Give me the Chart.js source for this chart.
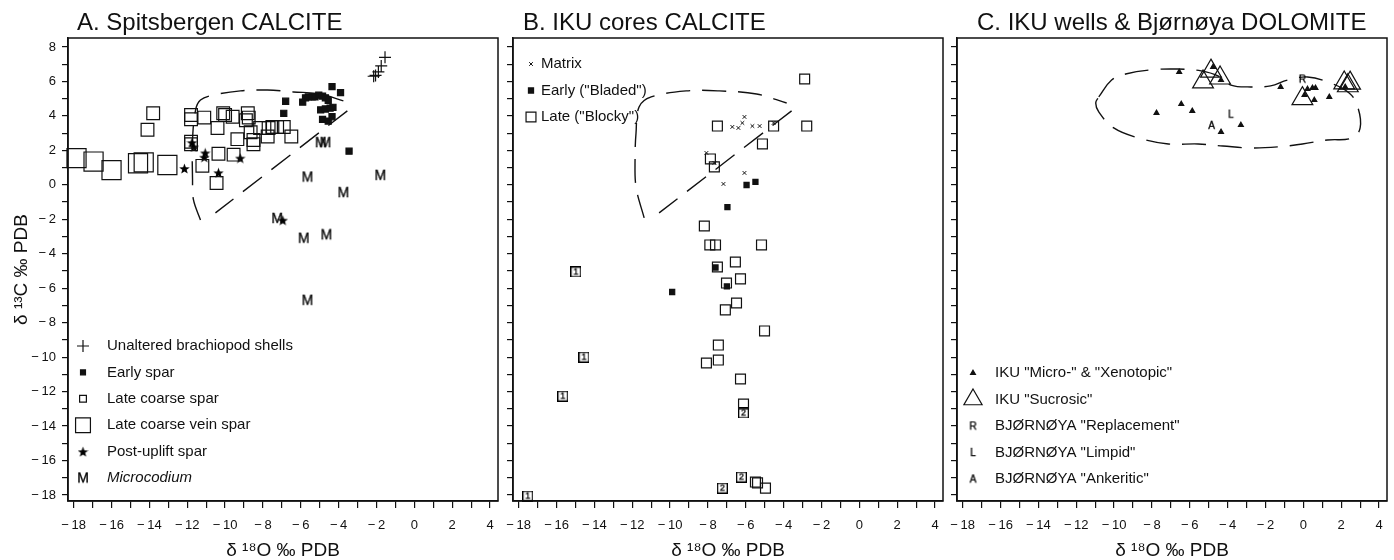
<!DOCTYPE html>
<html>
<head>
<meta charset="utf-8">
<title>Carbon and oxygen isotopes – calcite and dolomite</title>
<script src="https://cdn.jsdelivr.net/npm/chart.js@4.4.1/dist/chart.umd.min.js"></script>
<style>
  html, body { margin: 0; padding: 0; background: #fff; }
  #wrap { position: relative; width: 1394px; height: 560px; overflow: hidden; }
  canvas { position: absolute; top: 0; }
</style>
</head>
<body>
<div id="wrap">
  <canvas id="panelA" width="505" height="560" style="left:0px"></canvas>
  <canvas id="panelB" width="445" height="560" style="left:500px"></canvas>
  <canvas id="panelC" width="449" height="560" style="left:945px"></canvas>
</div>
<script>
// --- tick labels shared by the three panels ---
const xTickValues = [-18, -16, -14, -12, -10, -8, -6, -4, -2, 0, 2, 4];
const yTickValues = [8, 6, 4, 2, 0, -2, -4, -6, -8, -10, -12, -14, -16, -18];

// --- A. Spitsbergen calcite  [d18O, d13C] ---
const brachiopodShells = [[-1.55, 7.4], [-1.75, 6.9], [-1.9, 6.55], [-2.05, 6.35], [-2.15, 6.3]];
const earlySparA = [
  [-6.8, 4.85], [-6.9, 4.15], [-5.9, 4.8], [-5.75, 5.05], [-5.6, 5.1], [-5.4, 5.1], [-5.25, 5.1],
  [-5.05, 5.2], [-4.85, 5.15], [-4.7, 5.05], [-4.55, 4.9], [-4.35, 5.7], [-3.9, 5.35], [-4.95, 4.35],
  [-4.7, 4.4], [-4.45, 4.45], [-4.85, 3.8], [-4.55, 3.7], [-4.35, 3.95], [-4.3, 4.5], [-3.45, 1.95]
];
const lateCoarseSpar = [
  [-13.8, 4.15], [-14.1, 3.2], [-11.8, 4.05], [-11.8, 3.8], [-11.8, 2.5], [-11.8, 2.35], [-11.1, 3.9],
  [-10.4, 3.3], [-10.35, 1.8], [-11.2, 1.1], [-10.45, 0.1], [-10.1, 4.15], [-10.0, 4.05], [-9.6, 3.95],
  [-9.35, 2.65], [-9.55, 1.75], [-8.8, 4.15], [-8.75, 3.9], [-8.9, 3.75], [-8.65, 3.05], [-8.5, 2.35],
  [-8.5, 2.6], [-8.15, 3.3], [-7.75, 2.8], [-7.7, 3.3], [-7.5, 3.35], [-7.25, 3.35], [-6.9, 3.35], [-6.5, 2.8]
];
const lateVeinSpar = [[-17.85, 1.55], [-16.95, 1.35], [-16.0, 0.85], [-14.6, 1.25], [-14.3, 1.3], [-13.05, 1.15]];
const postUpliftSpar = [[-12.15, 0.95], [-11.75, 2.45], [-11.65, 2.2], [-11.05, 1.85], [-11.1, 1.6], [-10.35, 0.7], [-9.2, 1.55], [-6.95, -2.05]];
const microcodium = [[-4.95, 2.45], [-4.7, 2.45], [-5.65, 0.45], [-1.8, 0.55], [-3.75, -0.45], [-7.25, -1.95], [-5.85, -3.1], [-4.65, -2.9], [-5.65, -6.7]];
const envelopeA = [[-11.3, -2.04], [-11.67, -0.88], [-11.72, 0.28], [-11.72, 2.6], [-11.56, 4.34], [-11.3, 4.92], [-10.61, 5.21], [-9.19, 5.45], [-7.76, 5.5], [-6.39, 5.39], [-4.97, 5.27], [-3.75, 4.87]];
const trendA = [[-3.54, 4.29], [-10.51, -1.63]];

// --- B. IKU cores calcite ---
const matrixB = [[-6.07, 3.94], [-6.71, 3.36], [-6.39, 3.3], [-6.18, 3.59], [-5.65, 3.41], [-5.27, 3.41], [-4.53, 3.59], [-8.08, 1.85], [-7.66, 1.27], [-6.07, 0.69], [-7.18, 0.05]];
const earlyBladed = [[-5.96, -0.01], [-5.49, 0.17], [-6.97, -1.29], [-9.89, -6.22], [-7.6, -4.8], [-7.0, -5.9]];
const lateBlocky = [
  [-2.89, 6.14], [-7.5, 3.41], [-4.53, 3.41], [-2.78, 3.41], [-5.12, 2.37], [-7.87, 1.5], [-7.66, 1.04],
  [-8.19, -2.39], [-7.9, -3.49], [-7.6, -3.49], [-5.17, -3.49], [-6.55, -4.48], [-7.5, -4.77], [-6.28, -5.46],
  [-7.02, -5.7], [-6.49, -6.86], [-7.08, -7.26], [-5.01, -8.48], [-7.45, -9.3], [-7.45, -10.17], [-8.08, -10.34],
  [-6.28, -11.27], [-6.12, -12.72], [-5.49, -17.25], [-5.38, -17.3], [-4.96, -17.6]
];
const blockyGroup1 = [[-14.98, -5.06], [-14.55, -10.0], [-15.67, -12.26], [-17.52, -18.06]];
const blockyGroup2 = [[-6.12, -13.24], [-6.23, -16.96], [-7.24, -17.6]];
const envelopeB = [[-11.37, -1.92], [-11.8, -0.13], [-11.85, 1.62], [-11.8, 3.01], [-11.64, 4.52], [-11.0, 5.1], [-9.15, 5.45], [-7.4, 5.45], [-5.43, 5.27], [-3.84, 4.75]];
const trendB = [[-3.58, 4.29], [-10.58, -1.63]];

// --- C. IKU wells & Bjørnøya dolomite ---
const ikuMicroXeno = [[-6.56, 6.55], [-4.77, 6.84], [-4.35, 6.08], [-6.45, 4.69], [-5.87, 4.29], [-7.76, 4.17], [-4.35, 3.07], [-3.3, 3.47], [-1.2, 5.68], [0.22, 5.56], [0.48, 5.62], [0.64, 5.62], [0.58, 4.92], [1.37, 5.1], [0.06, 5.21], [2.21, 5.68]];
const ikuSucrosic = [[-4.88, 6.6], [-5.3, 5.97], [-4.4, 6.2], [-0.05, 5.0], [2.16, 5.91], [2.47, 5.9], [2.35, 5.75]];
const bjReplacement = [[-0.05, 6.14]];
const bjLimpid = [[-3.83, 4.1]];
const bjAnkeritic = [[-4.85, 3.45]];
const envelopeC = [[-10.81, 5.1], [-10.13, 6.08], [-9.39, 6.43], [-8.03, 6.67], [-6.61, 6.72], [-5.4, 6.61], [-4.51, 6.32], [-3.83, 5.79], [-2.78, 5.68], [-1.73, 5.74], [-0.83, 6.08], [0.22, 6.26], [1.27, 5.97], [2.42, 5.33], [2.89, 4.46], [3.0, 3.3], [2.58, 2.72], [1.27, 2.6], [-0.05, 2.37], [-1.36, 2.2], [-2.78, 2.14], [-4.25, 2.25], [-5.56, 2.37], [-7.13, 2.37], [-8.71, 2.72], [-10.02, 3.3], [-10.81, 4.23], [-10.97, 4.75], [-10.81, 5.1]];

// --- look ---
const INK = '#111';
const NONE = 'rgba(0,0,0,0)';
const FONT = '"Liberation Sans", Arial, Helvetica, sans-serif';
Chart.defaults.font.family = FONT;
Chart.defaults.color = INK;

// small canvases used as point styles (letters, stars, numbered boxes)
function glyph(text, fontPx, w, h, boxed) {
  const c = document.createElement('canvas');
  c.width = w; c.height = h;
  const g = c.getContext('2d');
  if (boxed) {
    g.strokeStyle = '#000'; g.lineWidth = 1.3;
    g.strokeRect(0.65, 0.65, w - 1.3, h - 1.3);
  }
  g.fillStyle = '#000';
  g.strokeStyle = '#000';
  g.lineWidth = 0.35;
  g.font = fontPx + 'px ' + FONT;
  g.textAlign = 'center';
  g.textBaseline = 'middle';
  g.fillText(text, w / 2, h / 2 + 0.5);
  g.strokeText(text, w / 2, h / 2 + 0.5);
  return c;
}
function starGlyph(size) {
  const c = document.createElement('canvas');
  c.width = size; c.height = size;
  const g = c.getContext('2d');
  const R = size / 2, r = R * 0.42;
  g.beginPath();
  for (let i = 0; i < 10; i++) {
    const a = -Math.PI / 2 + i * Math.PI / 5;
    const rr = i % 2 === 0 ? R : r;
    g.lineTo(R + rr * Math.cos(a), R + 0.6 + rr * Math.sin(a));
  }
  g.closePath();
  g.fillStyle = '#000';
  g.fill();
  return c;
}

const pts = arr => arr.map(([x, y]) => ({ x, y }));
function markers(label, arr, style, radius, extra) {
  return Object.assign({
    label: label, data: pts(arr), pointStyle: style, pointRadius: radius,
    pointBackgroundColor: INK, pointBorderColor: INK, pointBorderWidth: 1.2, clip: false
  }, extra || {});
}
function dashed(arr, tension) {
  return {
    data: pts(arr), showLine: true, borderColor: INK, borderWidth: 1.4, borderDash: [24, 12],
    pointRadius: 0, tension: tension, fill: false, clip: false
  };
}

// --- plugins: panel title, frame around the plot, legend inside the plot ---
const panelTitle = {
  id: 'panelTitle',
  afterDraw(chart, args, o) {
    const ctx = chart.ctx;
    ctx.save();
    ctx.font = '24px ' + FONT;
    ctx.fillStyle = INK;
    ctx.textBaseline = 'alphabetic';
    ctx.fillText(o.text, chart.chartArea.left + o.dx, 30);
    ctx.restore();
  }
};
const frame = {
  id: 'frame',
  afterDraw(chart) {
    const { ctx, chartArea: a } = chart;
    ctx.save();
    ctx.strokeStyle = INK;
    ctx.lineWidth = 1.5;
    ctx.strokeRect(a.left, a.top, a.right - a.left, a.bottom - a.top);
    ctx.restore();
  }
};
const insetLegend = {
  id: 'insetLegend',
  afterDatasetsDraw(chart, args, o) {
    const { ctx, chartArea } = chart;
    const drawPoint = Chart.helpers && Chart.helpers.drawPoint;
    let row = 0;
    chart.data.datasets.forEach(ds => {
      if (!ds.label || ds.hideInLegend) return;
      const x = chartArea.left + o.symbolX;
      const y = chartArea.top + o.top + row * o.rowHeight;
      ctx.save();
      ctx.fillStyle = ds.pointBackgroundColor;
      ctx.strokeStyle = ds.pointBorderColor;
      ctx.lineWidth = ds.pointBorderWidth;
      if (drawPoint) {
        drawPoint(ctx, {
          pointStyle: ds.legendStyle || ds.pointStyle,
          radius: ds.legendRadius || ds.pointRadius,
          rotation: 0, borderWidth: ds.pointBorderWidth
        }, x, y);
      }
      ctx.fillStyle = INK;
      ctx.font = (ds.legendItalic ? 'italic ' : '') + o.fontSize + 'px ' + FONT;
      ctx.textAlign = 'left';
      ctx.textBaseline = 'middle';
      ctx.fillText(ds.label, chartArea.left + o.textX, y);
      ctx.restore();
      row++;
    });
  }
};

const fmt = v => (v < 0 ? '\u2212\u2009' + Math.abs(v) : String(v));

function xScale() {
  return {
    type: 'linear', min: -18.3, max: 4.42,
    ticks: {
      stepSize: 1, includeBounds: false, autoSkip: false, maxRotation: 0, padding: 10,
      font: { size: 13 }, color: INK,
      callback: v => (xTickValues.includes(Math.round(v)) ? fmt(Math.round(v)) : '')
    },
    grid: { drawOnChartArea: false, drawTicks: true, tickLength: 7, color: INK, lineWidth: 1.2 },
    border: { display: true, color: INK, width: 1.5 },
    title: { display: true, text: 'δ ¹⁸O ‰ PDB', font: { size: 19, lineHeight: 1 }, padding: { top: 0, bottom: 0 }, color: INK },
    afterFit: s => { s.height = 59; s.paddingLeft = 0; s.paddingRight = 0; }
  };
}
function yScale(width, showLabels) {
  return {
    type: 'linear', min: -18.35, max: 8.52,
    ticks: {
      display: showLabels, stepSize: 1, includeBounds: false, autoSkip: false, padding: 6,
      font: { size: 13 }, color: INK,
      callback: v => (yTickValues.includes(Math.round(v)) ? fmt(Math.round(v)) : '')
    },
    grid: { drawOnChartArea: false, drawTicks: true, tickLength: 6, color: INK, lineWidth: 1.2 },
    border: { display: true, color: INK, width: 1.5 },
    title: { display: showLabels, text: 'δ ¹³C ‰ PDB', font: { size: 19, lineHeight: 1 }, padding: { top: 12, bottom: 0 }, color: INK },
    afterFit: s => { s.width = width; s.paddingTop = 0; s.paddingBottom = 0; }
  };
}

function makePanel(id, cfg) {
  return new Chart(document.getElementById(id), {
    type: 'scatter',
    data: { datasets: cfg.datasets },
    options: {
      responsive: false,
      animation: false,
      events: [],
      layout: { autoPadding: false, padding: { top: 38, right: cfg.padRight, bottom: 0, left: 0 } },
      plugins: {
        legend: { display: false },
        tooltip: { enabled: false },
        panelTitle: { text: cfg.title, dx: cfg.titleDx },
        insetLegend: cfg.legend
      },
      scales: { x: xScale(), y: yScale(cfg.yWidth, cfg.yLabels) }
    },
    plugins: [panelTitle, frame, insetLegend]
  });
}

const star = starGlyph(11);
const letterM = glyph('M', 14, 14, 13, false);

makePanel('panelA', {
  title: 'A. Spitsbergen CALCITE', titleDx: 9, yWidth: 68, yLabels: true, padRight: 7,
  legend: { symbolX: 15, textX: 39, top: 308, rowHeight: 26.4, fontSize: 15 },
  datasets: [
    markers('Unaltered brachiopod shells', brachiopodShells, 'cross', 6, { legendRadius: 6 }),
    markers('Early spar', earlySparA, 'rect', 4.3, { legendRadius: 3.5 }),
    markers('Late coarse spar', lateCoarseSpar, 'rect', 9, { pointBackgroundColor: NONE, legendRadius: 4.8 }),
    markers('Late coarse vein spar', lateVeinSpar, 'rect', 13.5, { pointBackgroundColor: NONE, legendRadius: 10.5 }),
    markers('Post-uplift spar', postUpliftSpar, star, 5),
    markers('Microcodium', microcodium, letterM, 5, { legendItalic: true }),
    dashed(envelopeA, 0.35),
    dashed(trendA, 0)
  ]
});

makePanel('panelB', {
  title: 'B. IKU cores CALCITE', titleDx: 10, yWidth: 13, yLabels: false, padRight: 2,
  legend: { symbolX: 18, textX: 28, top: 26, rowHeight: 26.5, fontSize: 15 },
  datasets: [
    markers('Matrix', matrixB, 'crossRot', 2.6, { pointBorderWidth: 1 }),
    markers('Early ("Bladed")', earlyBladed, 'rect', 3.6),
    markers('Late ("Blocky")', lateBlocky, 'rect', 7, { pointBackgroundColor: NONE }),
    markers('Late ("Blocky") 1', blockyGroup1, glyph('1', 9, 11, 11, true), 5, { hideInLegend: true }),
    markers('Late ("Blocky") 2', blockyGroup2, glyph('2', 9, 11, 11, true), 5, { hideInLegend: true }),
    dashed(envelopeB, 0.35),
    dashed(trendB, 0)
  ]
});

makePanel('panelC', {
  title: 'C. IKU wells & Bjørnøya DOLOMITE', titleDx: 20, yWidth: 12, yLabels: false, padRight: 7,
  legend: { symbolX: 16, textX: 38, top: 335, rowHeight: 26.5, fontSize: 15 },
  datasets: [
    markers('IKU "Micro-" & "Xenotopic"', ikuMicroXeno, 'triangle', 2.8),
    markers('IKU "Sucrosic"', ikuSucrosic, 'triangle', 12, { pointBackgroundColor: NONE, legendRadius: 10.5 }),
    markers('BJØRNØYA "Replacement"', bjReplacement, glyph('R', 10, 9, 11, false), 5),
    markers('BJØRNØYA "Limpid"', bjLimpid, glyph('L', 10, 9, 11, false), 5),
    markers('BJØRNØYA "Ankeritic"', bjAnkeritic, glyph('A', 10, 9, 11, false), 5),
    dashed(envelopeC, 0.4)
  ]
});
</script>
</body>
</html>
